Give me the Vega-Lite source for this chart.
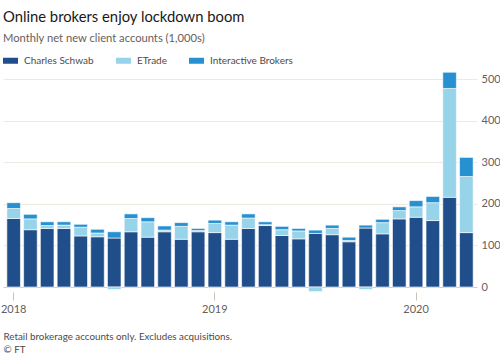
{
  "$schema": "https://vega.github.io/schema/vega-lite/v6.json",
  "width": 474,
  "height": 221,
  "padding": {"left": 0, "top": 10, "right": 3, "bottom": 0},
  "background": "#ffffff",
  "config": {
    "view": {"stroke": null},
    "font": "Lato"
  },
  "title": {
    "text": "Online brokers enjoy lockdown boom",
    "subtitle": "Monthly net new client accounts (1,000s)",
    "anchor": "start",
    "frame": "group",
    "font": "Lato",
    "fontSize": 14.8,
    "fontWeight": "normal",
    "color": "#1a1817",
    "subtitleFont": "Lato",
    "subtitleFontSize": 11.2,
    "subtitleColor": "#66605c",
    "subtitlePadding": 8,
    "offset": 9
  },
  "data": {
    "values": [
      {"m": "2018-01", "Charles Schwab": 165, "ETrade": 24, "Interactive Brokers": 14},
      {"m": "2018-02", "Charles Schwab": 138, "ETrade": 26, "Interactive Brokers": 11},
      {"m": "2018-03", "Charles Schwab": 141, "ETrade": 7, "Interactive Brokers": 9},
      {"m": "2018-04", "Charles Schwab": 141, "ETrade": 8, "Interactive Brokers": 8},
      {"m": "2018-05", "Charles Schwab": 123, "ETrade": 21, "Interactive Brokers": 7},
      {"m": "2018-06", "Charles Schwab": 121, "ETrade": 9, "Interactive Brokers": 9},
      {"m": "2018-07", "Charles Schwab": 118, "ETrade": -6, "Interactive Brokers": 15},
      {"m": "2018-08", "Charles Schwab": 133, "ETrade": 32, "Interactive Brokers": 11},
      {"m": "2018-09", "Charles Schwab": 120, "ETrade": 37, "Interactive Brokers": 10},
      {"m": "2018-10", "Charles Schwab": 133, "ETrade": 4, "Interactive Brokers": 10},
      {"m": "2018-11", "Charles Schwab": 115, "ETrade": 31, "Interactive Brokers": 9},
      {"m": "2018-12", "Charles Schwab": 133, "ETrade": 3, "Interactive Brokers": 5},
      {"m": "2019-01", "Charles Schwab": 131, "ETrade": 22, "Interactive Brokers": 8},
      {"m": "2019-02", "Charles Schwab": 115, "ETrade": 34, "Interactive Brokers": 8},
      {"m": "2019-03", "Charles Schwab": 141, "ETrade": 25, "Interactive Brokers": 10},
      {"m": "2019-04", "Charles Schwab": 148, "ETrade": 2, "Interactive Brokers": 7},
      {"m": "2019-05", "Charles Schwab": 124, "ETrade": 14, "Interactive Brokers": 8},
      {"m": "2019-06", "Charles Schwab": 116, "ETrade": 19, "Interactive Brokers": 6},
      {"m": "2019-07", "Charles Schwab": 129, "ETrade": -11, "Interactive Brokers": 8},
      {"m": "2019-08", "Charles Schwab": 126, "ETrade": 15, "Interactive Brokers": 8},
      {"m": "2019-09", "Charles Schwab": 109, "ETrade": 3, "Interactive Brokers": 8},
      {"m": "2019-10", "Charles Schwab": 142, "ETrade": -6, "Interactive Brokers": 7},
      {"m": "2019-11", "Charles Schwab": 128, "ETrade": 27, "Interactive Brokers": 8},
      {"m": "2019-12", "Charles Schwab": 164, "ETrade": 20, "Interactive Brokers": 9},
      {"m": "2020-01", "Charles Schwab": 168, "ETrade": 25, "Interactive Brokers": 15},
      {"m": "2020-02", "Charles Schwab": 160, "ETrade": 43, "Interactive Brokers": 15},
      {"m": "2020-03", "Charles Schwab": 216, "ETrade": 262, "Interactive Brokers": 39},
      {"m": "2020-04", "Charles Schwab": 131, "ETrade": 135, "Interactive Brokers": 46}
    ]
  },
  "transform": [
    {"fold": ["Charles Schwab", "ETrade", "Interactive Brokers"], "as": ["broker", "value"]}
  ],
  "mark": {"type": "bar", "stroke": "#ffffff", "strokeWidth": 0.6},
  "encoding": {
    "x": {
      "field": "m",
      "type": "ordinal",
      "scale": {"paddingInner": 0.19, "paddingOuter": 0.23},
      "axis": {
        "values": ["2018-01", "2019-01", "2020-01"],
        "labelExpr": "substring(datum.value, 0, 4)",
        "labelAngle": 0,
        "labelFont": "Lato",
        "labelFontSize": 11,
        "labelColor": "#66605c",
        "labelPadding": 3,
        "tickColor": "#ccc1b7",
        "tickSize": 8,
        "domain": false,
        "title": ["Retail brokerage accounts only. Excludes acquisitions.", "© FT"],
        "titleFont": "Lato",
        "titleFontSize": 9.8,
        "titleFontWeight": "normal",
        "titleColor": "#4e4a47",
        "titleAnchor": "start",
        "titleAlign": "left",
        "titlePadding": 17,
        "titleLineHeight": 13
      }
    },
    "y": {
      "field": "value",
      "type": "quantitative",
      "stack": "zero",
      "scale": {"domain": [-12, 520], "nice": false, "zero": false},
      "axis": {
        "orient": "right",
        "values": [0, 100, 200, 300, 400, 500],
        "title": null,
        "domain": false,
        "ticks": false,
        "labelPadding": 4,
        "labelFont": "Lato",
        "labelFontSize": 11,
        "labelColor": "#66605c",
        "gridColor": {"condition": {"test": "datum.value === 0", "value": "#d5cdc5"}, "value": "#efe9e3"},
        "gridWidth": 1
      }
    },
    "order": {"field": "broker", "sort": "ascending"},
    "color": {
      "field": "broker",
      "type": "nominal",
      "scale": {
        "domain": ["Charles Schwab", "ETrade", "Interactive Brokers"],
        "range": ["#1f4e8a", "#97d3e9", "#2690d0"]
      },
      "legend": {
        "orient": "top",
        "direction": "horizontal",
        "title": null,
        "symbolType": "M-1,-0.4H1V0.4H-1Z",
        "symbolSize": 225,
        "symbolStrokeWidth": 0,
        "symbolOpacity": 1,
        "labelFont": "Lato",
        "labelFontSize": 10,
        "labelColor": "#4e4a47",
        "labelOffset": 6,
        "columnPadding": 22,
        "padding": 0,
        "offset": 5
      }
    }
  }
}
